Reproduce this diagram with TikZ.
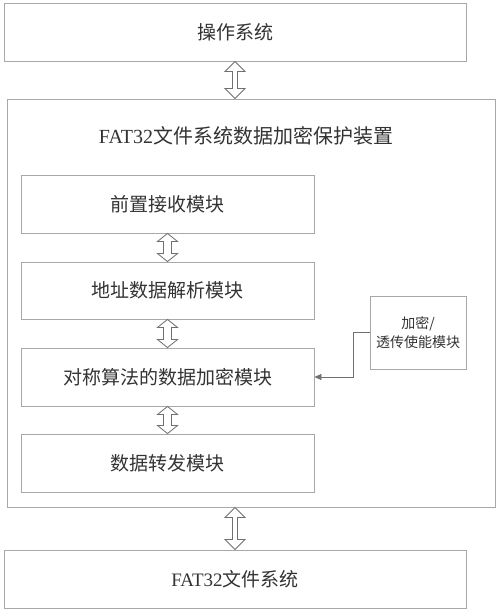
\documentclass[tikz,border=0pt]{standalone}
\usepackage{fontspec}
\setmainfont{Liberation Serif}
\newfontfamily\cjk{Noto Sans CJK SC}
\usetikzlibrary{calc,arrows.meta}
\definecolor{linegray}{HTML}{A8A8A8}
\definecolor{arrgray}{HTML}{707070}
\definecolor{txtgray}{HTML}{333333}
\tikzset{
  box/.style={draw=linegray, line width=0.9pt, fill=white, inner sep=0pt, text=txtgray, font=\fontsize{19}{22}\selectfont\cjk},
  dblarr/.style={draw=arrgray, line width=0.8pt, fill=white, line join=miter},
  conn/.style={draw=arrgray, line width=0.7pt, -{Triangle[length=7pt,width=6pt]}},
}
% #1 top anchor, #2 bottom anchor, #3 shaft half width, #4 head half width, #5 head length
\newcommand\dblarrow[5]{%
  \draw[dblarr] let \p1=(#1), \p2=(#2) in
    (\x1,\y1) -- (\x1+#4,\y1-#5) -- (\x1+#3,\y1-#5) -- (\x1+#3,\y2+#5) -- (\x1+#4,\y2+#5)
    -- (\x1,\y2) -- (\x1-#4,\y2+#5) -- (\x1-#3,\y2+#5) -- (\x1-#3,\y1-#5) -- (\x1-#4,\y1-#5) -- cycle;}
\begin{document}
\begin{tikzpicture}[x=1pt,y=-1pt]
\useasboundingbox[fill=white] (0,0) rectangle (500,613);
\node[box, minimum width=462pt, minimum height=58pt] (os) at (235,32) {操作系统};
\node[box, minimum width=488pt, minimum height=408pt] (dev) at (251,303) {};
\node[text=txtgray, font=\fontsize{20}{24}\selectfont] (title) at (246,136) {FAT32{\cjk 文件系统数据加密保护装置}};
\node[box, minimum width=293pt, minimum height=58pt] (b1) at (167.5,204) {前置接收模块};
\node[box, minimum width=293pt, minimum height=57pt] (b2) at (167.5,290.5) {地址数据解析模块};
\node[box, minimum width=293pt, minimum height=58pt] (b3) at (167.5,377) {对称算法的数据加密模块};
\node[box, minimum width=293pt, minimum height=58pt] (b4) at (167.5,463) {数据转发模块};
\node[box, minimum width=96pt, minimum height=73pt, align=center, font=\fontsize{14}{19}\selectfont\cjk] (side) at (418,332.5) {加密/\\透传使能模块};
\node[box, minimum width=462pt, minimum height=58pt, font=\fontsize{19}{22}\selectfont] (fs) at (235,579) {FAT32{\cjk 文件系统}};
\dblarrow{os.south}{os.south |- dev.north}{2.5pt}{10pt}{10pt}
\dblarrow{b1.south}{b2.north}{4pt}{10pt}{8pt}
\dblarrow{b2.south}{b3.north}{4pt}{10pt}{8pt}
\dblarrow{b3.south}{b4.north}{4pt}{10pt}{8pt}
\dblarrow{fs.north |- dev.south}{fs.north}{2.5pt}{10pt}{10pt}
\draw[conn] (side.west) -- ++(-16,0) |- (b3.east);
\end{tikzpicture}
\end{document}
